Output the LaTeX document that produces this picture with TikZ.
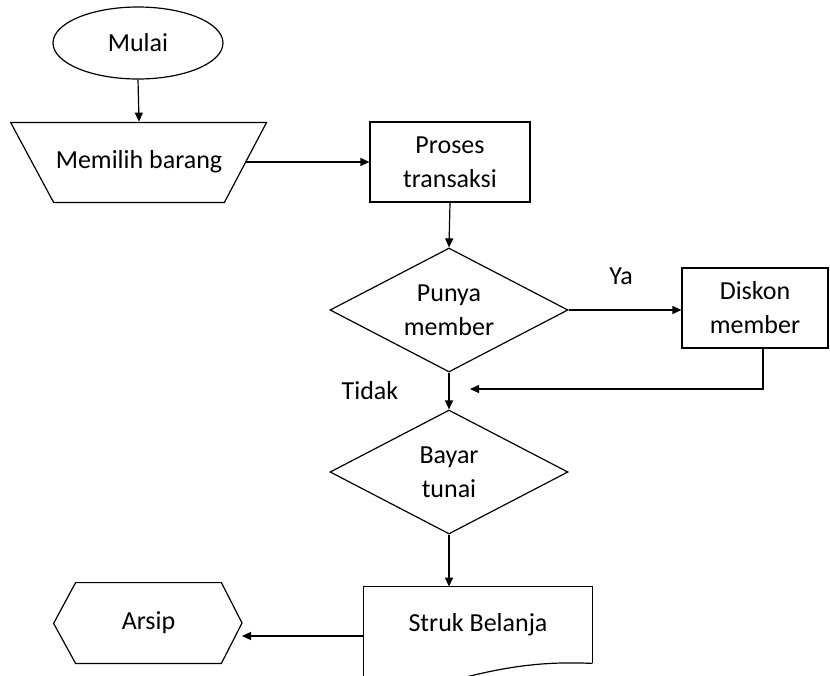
\documentclass[tikz,border=0pt]{standalone}
\usepackage{fontspec}
\setmainfont{Carlito}
\usepackage{tikz}
\usetikzlibrary{arrows.meta,shapes.geometric}
\newcommand{\flowfont}{\fontsize{13}{17}\selectfont}
\tikzset{
  ar/.style={-{Triangle[length=4.5pt,width=4pt]},line width=0.6pt},
  box/.style={draw,line width=0.6pt,align=center,font=\flowfont},
  dia/.style={box,diamond,shape aspect=1.9,minimum width=119pt,minimum height=62pt,inner sep=0pt},
  txt/.style={font=\flowfont,inner sep=0pt},
  outline/.style={line width=0.6pt}
}
\begin{document}
\begin{tikzpicture}[x=0.5pt,y=-0.5pt]
\useasboundingbox (0,0) rectangle (830,675);
\clip (0,0) rectangle (830,675);
\node[box,ellipse,minimum width=85pt,minimum height=36pt] (mulai) at (138,43) {Mulai};
\node[txt,minimum width=85pt,minimum height=40pt] (pilih) at (139,162) {Memilih barang};
\node[box,minimum width=80pt,minimum height=40pt] (proses) at (450,162) {Proses\\transaksi};
\node[dia] (punya) at (449,310) {Punya\\member};
\node[box,minimum width=73pt,minimum height=40pt] (diskon) at (755,308) {Diskon\\member};
\node[dia] (bayar) at (449,472) {Bayar\\tunai};
\node[txt,minimum width=114pt,minimum height=38pt] (struk) at (478,625) {Struk Belanja};
\node[txt,minimum width=72.5pt,minimum height=40pt] (arsip) at (148.5,623) {Arsip};
\node[txt] (ya) at (621,276) {Ya};
\node[txt] (tidak) at (370,391) {Tidak};
\coordinate (pilihR) at (245,162);
\coordinate (arsipR) at (242,623);
\coordinate (join) at (470,389);
\draw[outline] (pilih.south west) -- ++(-43,-80) -- ++(256,0) -- (pilih.south east) -- cycle;
\draw[outline] (arsip.north west) -- (arsip.north east) -- (arsipR) -- (arsip.south east) -- (arsip.south west) -- ++(-22,-40) -- cycle;
\draw[outline] (struk.south east) -- (struk.north east) -- (struk.north west) -- ++(0,110);
\draw[outline] (struk.south east) .. controls (540,661) and (500,667) .. (440,684) .. controls (400,695) and (380,692) .. (364,690);
\draw[ar] (mulai.south) -- (pilih.north);
\draw[ar] (pilihR) -- (proses.west);
\draw[ar] (proses.south) -- (punya.north);
\draw[ar] (punya.east) -- (punya.east -| diskon.west);
\draw[ar] ([xshift=4pt]diskon.south) |- (join);
\draw[ar] (punya.south) -- (bayar.north);
\draw[ar] (bayar.south) -- (bayar.south |- struk.north);
\draw[ar] (struk.west |- 0,636) -- (arsipR |- 0,636);
\end{tikzpicture}
\end{document}
